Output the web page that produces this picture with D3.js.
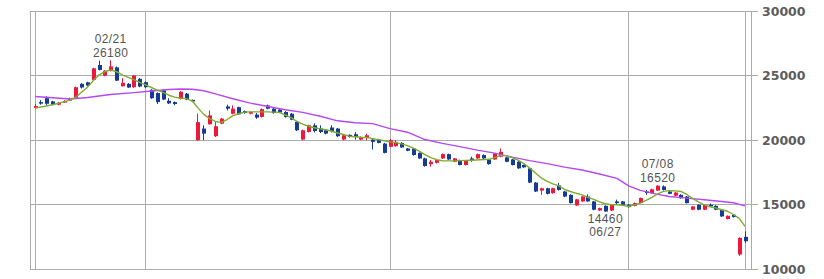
<!DOCTYPE html>
<html>
<head>
<meta charset="utf-8">
<script src="https://cdn.jsdelivr.net/npm/d3@7"></script>
<style>
  body { margin: 0; background: #fff; }
  svg { display: block; }
  .y.axis text { font-family: "DejaVu Sans", Verdana, sans-serif; font-size: 12.5px; font-weight: bold; fill: #5c5c5c; }
  .y.axis line, .grid line { stroke: #ababab; stroke-width: 1; }
  .note { font-family: "Liberation Sans", Arial, sans-serif; font-size: 12px; fill: #555; letter-spacing: 0.4px; }
</style>
</head>
<body>
<svg id="chart" width="824" height="279"></svg>
<script>
// daily candles, oldest first
const opens = [22500, 22950, 23250, 23000, 22750, 22950, 23120, 23250, 24360, 24480,
  24670, 25820, 25000, 25360, 25640, 24180, 24360, 24100, 24750, 24490,
  23900, 23650, 23850, 23050, 22950, 23200, 23600, 23120, 20000, 20900,
  21230, 20310, 21280, 22610, 22050, 22560, 22250, 22050, 21980, 21800,
  22690, 22440, 22360, 22180, 22050, 21410, 20050, 20640, 21150, 20900,
  20770, 20980, 20900, 20050, 20410, 20460, 20050, 20210, 20050, 20050,
  19740, 19490, 19540, 19790, 19360, 19360, 19020, 18590, 18150, 18250,
  18590, 18920, 18330, 18460, 18080, 18590, 18590, 18850, 18510, 18510,
  18720, 18670, 18510, 18330, 18080, 17820, 16720, 16100, 16280, 15900,
  16500, 16030, 15770, 14950, 15260, 15640, 15260, 14560, 14920, 14560,
  15260, 15260, 15000, 14920, 15130, 16030, 15900, 16100, 16420, 16030,
  15700, 15770, 15640, 14620, 15000, 14620, 15000, 14920, 14620, 13900,
  14230, 11150, 12520];
const highs = [22800, 23100, 23400, 23050, 22950, 23100, 23300, 24150, 24420, 24520,
  25600, 26150, 25420, 26180, 25700, 24800, 24420, 25050, 24800, 24550,
  23950, 23700, 23950, 23250, 23000, 23800, 23650, 23150, 22070, 21150,
  22300, 21460, 21720, 22750, 22700, 22600, 22300, 22250, 22100, 22460,
  22750, 22500, 22420, 22250, 22100, 21500, 20820, 21200, 21300, 21150,
  20800, 21150, 20950, 20420, 20450, 20620, 20300, 20500, 20150, 20100,
  19800, 20100, 20000, 19850, 19400, 19400, 19050, 18650, 18460, 18500,
  18970, 18960, 18620, 18500, 18440, 18720, 18960, 18900, 18550, 19000,
  19360, 18720, 18550, 18380, 18120, 17860, 16760, 16320, 16320, 16320,
  16700, 16080, 15820, 15460, 15680, 15800, 15300, 14780, 14960, 15040,
  15400, 15300, 15050, 15170, 15560, 16150, 16250, 16520, 16500, 16080,
  16000, 15820, 15680, 14900, 15040, 15040, 15100, 14960, 14660, 14180,
  14270, 12480, 12950];
const lows = [22400, 22750, 22700, 22700, 22700, 22900, 23050, 23200, 24000, 24200,
  24620, 25400, 24950, 25320, 24580, 24150, 24050, 24050, 24100, 24050,
  23200, 22800, 23100, 22800, 22700, 23150, 23100, 22950, 19950, 20000,
  21200, 20250, 21230, 22300, 22000, 21950, 22050, 22000, 21650, 21750,
  22400, 22050, 22100, 21750, 21550, 20700, 20000, 20600, 20600, 20550,
  20450, 20600, 20250, 20000, 20200, 20050, 20000, 20000, 19280, 19750,
  18980, 19450, 19500, 19400, 19150, 18800, 18550, 17950, 17950, 18200,
  18550, 18480, 18300, 18050, 18050, 18330, 18550, 18550, 18100, 18480,
  18680, 18300, 18050, 17780, 17860, 16680, 15990, 15770, 15800, 15860,
  16100, 15600, 15100, 14920, 15230, 15230, 14580, 14520, 14460, 14520,
  15050, 14960, 14780, 14880, 15100, 15770, 15860, 16060, 16100, 15820,
  15660, 15480, 15100, 14590, 14580, 14590, 14850, 14590, 14060, 13870,
  14020, 11050, 12050];
const closes = [22650, 22830, 22820, 22750, 22900, 23030, 23180, 24100, 24080, 24230,
  25560, 25440, 25380, 25710, 24610, 24440, 24080, 25000, 24150, 24100,
  23250, 22950, 23150, 22850, 22800, 23750, 23150, 23000, 21400, 20510,
  21920, 21080, 21670, 22440, 22440, 22000, 22100, 22180, 21750, 22400,
  22440, 22100, 22150, 21790, 21590, 20770, 20770, 21150, 20710, 20640,
  20510, 20720, 20310, 20380, 20250, 20250, 20250, 20380, 19870, 19790,
  19020, 20000, 19870, 19440, 19180, 18850, 18590, 18000, 18330, 18460,
  18920, 18510, 18590, 18080, 18400, 18450, 18920, 18590, 18150, 18970,
  19100, 18330, 18080, 17820, 17900, 16720, 16030, 16280, 15850, 16280,
  16150, 15640, 15130, 15420, 15640, 15260, 14620, 14740, 14480, 15000,
  15130, 15000, 14820, 15130, 15520, 15920, 16200, 16480, 16150, 15850,
  15950, 15510, 15130, 14870, 14620, 15000, 14920, 14620, 14100, 14150,
  14050, 12440, 12180];

// short moving average (green), read at these candle positions
const maShortAt = [0, 2, 4, 6, 7, 8, 9, 10, 11, 12, 13, 14, 15, 16, 17, 18, 19, 20, 21, 22,
  23, 24, 25, 26, 27, 28, 29, 30, 31, 32, 33, 34, 35, 36, 37, 40, 42, 43, 44, 45,
  46, 47, 48, 49, 50, 51, 52, 53, 54, 55, 56, 57, 58, 59, 60, 61, 62, 63, 64, 65,
  66, 67, 68, 69, 70, 72, 75, 78, 79, 80, 81, 82, 83, 84, 85, 86, 87, 88, 89, 90,
  91, 92, 93, 94, 95, 96, 97, 98, 99, 100, 101, 102, 103, 104, 105, 106, 107, 108, 109, 110,
  111, 112, 113, 114, 115, 116, 117, 118, 119, 120, 121, 122];
const maShort = [22480, 22650, 22850, 23100, 23330, 23710, 24100, 24610, 25050, 25300,
  25440, 25300, 25050, 24870, 24690, 24480, 24280, 24080, 23870, 23700,
  23480, 23330, 23250, 23220, 23050, 22500, 22000, 21670, 21450, 21380,
  21600, 21900, 22050, 22170, 22190, 22190, 22150, 21950, 21750, 21450,
  21250, 21080, 20960, 20880, 20810, 20690, 20560, 20440, 20310, 20270,
  20230, 20210, 20120, 20040, 19960, 19870, 19810, 19720, 19580, 19380,
  19150, 18880, 18650, 18500, 18410, 18400, 18450, 18520, 18650, 18810,
  18810, 18650, 18460, 18190, 17850, 17460, 17080, 16810, 16620, 16460,
  16190, 16030, 15890, 15770, 15580, 15420, 15230, 15080, 15000, 15000,
  14960, 14870, 15000, 15130, 15350, 15580, 15850, 16040, 16100, 16080,
  16030, 15800, 15500, 15220, 15000, 14850, 14750, 14620, 14500, 14250,
  13950, 13330];

// long moving average (purple)
const maLongAt = [0, 3, 6, 9, 13, 17, 20, 23, 25, 27, 29, 31, 34, 37, 40, 43, 46, 49, 52, 55,
  58, 61, 64, 67, 70, 73, 76, 79, 82, 85, 88, 91, 94, 97, 100, 102, 104, 107, 109, 112,
  115, 118, 120, 122];
const maLong = [23380, 23280, 23190, 23310, 23540, 23680, 23810, 23920, 23960, 23940,
  23830, 23580, 23210, 22870, 22610, 22360, 22150, 21850, 21500, 21350,
  21280, 20900, 20620, 20050, 19750, 19500, 19230, 19000, 18690, 18420,
  18190, 17920, 17690, 17380, 17040, 16460, 16120, 15810, 15640, 15520,
  15390, 15260, 15160, 14920];

const yTicks = [10000, 15000, 20000, 25000, 30000];
const monthGrid = [19, 61, 102];   // candle positions of the vertical grid lines

const noteAt = [13, 98, 107];
const noteDate = ["02/21", "06/27", "07/08"];
const noteValue = [26180, 14460, 16520];
const noteSide = ["above", "below", "above"];

class CandleChart {
  constructor(svg) {
    const vis = this;
    vis.svg = svg;
    vis.frame = {left: 30, innerLeft: 35, innerRight: 745, right: 751, tickEnd: 758, top: 11, bottom: 269.4};

    vis.up = "#f0173d";
    vis.down = "#143c96";

    vis.xScale = d3.scaleLinear()
        .domain([0, opens.length - 1])
        .range([vis.frame.innerLeft, vis.frame.innerRight]);
    vis.yScale = d3.scaleLinear()
        .domain([10000, 30000])
        .range([vis.frame.bottom, vis.frame.top]);

    vis.line = d3.line()
        .x(d => vis.xScale(d[0]))
        .y(d => vis.yScale(d[1]));

    vis.drawGrid();
    vis.drawCandles();
    vis.drawAverages();
    vis.drawNotes();
  }

  drawGrid() {
    const vis = this;
    const f = vis.frame;
    const crisp = v => Math.floor(v) + 0.5;

    const yAxis = d3.axisRight(vis.yScale)
        .tickValues(yTicks)
        .tickFormat(d3.format("d"))
        .tickSize(f.tickEnd - f.left)
        .tickPadding(4);

    const gy = vis.svg.append("g")
        .attr("class", "y axis")
        .attr("transform", "translate(" + f.left + ",0)")
        .call(yAxis);
    gy.select(".domain").remove();
    gy.selectAll(".tick").attr("transform", d => "translate(0," + crisp(vis.yScale(d)) + ")");
    gy.selectAll(".tick text").attr("dy", "0.36em");

    const xs = [f.left, f.right]
        .concat([0, opens.length - 1].concat(monthGrid).map(i => vis.xScale(i)));

    vis.svg.append("g")
        .attr("class", "grid")
        .selectAll("line")
        .data(xs)
        .enter().append("line")
        .attr("x1", d => crisp(d))
        .attr("x2", d => crisp(d))
        .attr("y1", crisp(vis.yScale(30000)))
        .attr("y2", crisp(vis.yScale(10000)));
  }

  drawCandles() {
    const vis = this;
    const idx = d3.range(opens.length);

    const g = vis.svg.append("g").attr("class", "candles");
    const c = g.selectAll("g").data(idx).enter().append("g");

    c.append("line")
      .attr("x1", i => Math.floor(vis.xScale(i)) + 0.5)
      .attr("x2", i => Math.floor(vis.xScale(i)) + 0.5)
      .attr("y1", i => vis.yScale(highs[i]))
      .attr("y2", i => vis.yScale(lows[i]))
      .attr("stroke", i => closes[i] >= opens[i] ? vis.up : vis.down)
      .attr("stroke-width", 1);

    c.append("rect")
      .attr("x", i => Math.floor(vis.xScale(i)) - 1)
      .attr("width", 4)
      .attr("y", i => vis.yScale(Math.max(opens[i], closes[i])))
      .attr("height", i => Math.max(1.5, Math.abs(vis.yScale(opens[i]) - vis.yScale(closes[i]))))
      .attr("fill", i => closes[i] >= opens[i] ? vis.up : vis.down);
  }

  drawAverages() {
    const vis = this;
    const lines = [
      {pts: maLongAt.map((d, i) => [d, maLong[i]]), color: "#b548f2"},
      {pts: maShortAt.map((d, i) => [d, maShort[i]]), color: "#7fab2e"}
    ];

    vis.svg.append("g")
      .attr("class", "averages")
      .selectAll("path")
      .data(lines)
      .enter().append("path")
      .attr("fill", "none")
      .attr("stroke", d => d.color)
      .attr("stroke-width", 1.4)
      .attr("stroke-linejoin", "round")
      .attr("d", d => vis.line(d.pts));
  }

  drawNotes() {
    const vis = this;
    const g = vis.svg.append("g").attr("class", "notes");

    noteAt.forEach((p, i) => {
      const x = vis.xScale(p);
      const y = vis.yScale(noteValue[i]);
      const above = noteSide[i] === "above";
      const yNum = above ? y - 3.5 : y + 11;
      const yDate = above ? yNum - 13.5 : yNum + 13.5;

      g.append("text").attr("class", "note")
        .attr("x", x).attr("y", yNum)
        .attr("text-anchor", "middle")
        .text(noteValue[i]);
      g.append("text").attr("class", "note")
        .attr("x", x).attr("y", yDate)
        .attr("text-anchor", "middle")
        .text(noteDate[i]);
    });
  }
}

new CandleChart(d3.select("#chart"));
</script>
</body>
</html>
